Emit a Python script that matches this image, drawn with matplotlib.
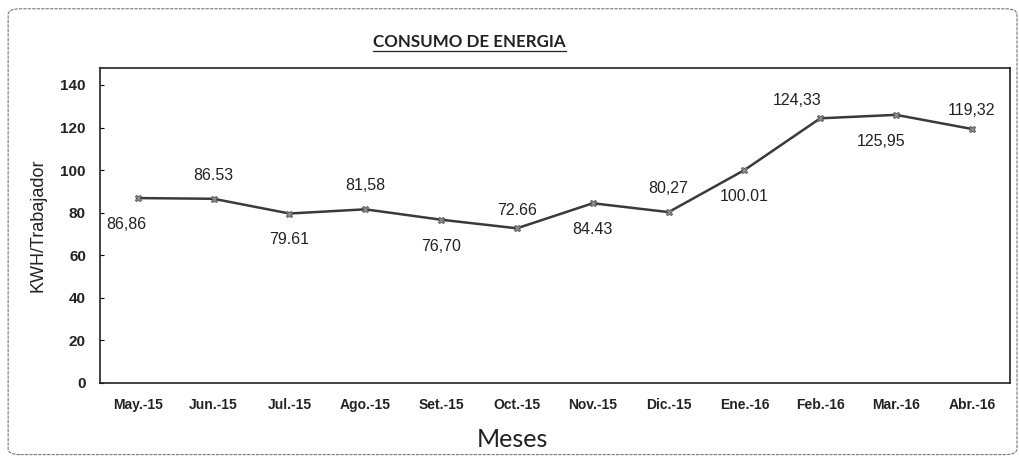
import matplotlib
matplotlib.use("Agg")
import matplotlib.pyplot as plt
from matplotlib.patches import FancyBboxPatch
from matplotlib.lines import Line2D

# Data
months = ["May.-15", "Jun.-15", "Jul.-15", "Ago.-15", "Set.-15", "Oct.-15",
          "Nov.-15", "Dic.-15", "Ene.-16", "Feb.-16", "Mar.-16", "Abr.-16"]
kwh = [86.86, 86.53, 79.61, 81.58, 76.70, 72.66,
       84.43, 80.27, 100.01, 124.33, 125.95, 119.32]
value_labels = ["86,86", "86.53", "79.61", "81,58", "76,70", "72.66",
                "84.43", "80,27", "100.01", "124,33", "125,95", "119,32"]
y_ticks = [0, 20, 40, 60, 80, 100, 120, 140]

fig = plt.figure(figsize=(10.19, 4.62), dpi=100)
ax = fig.add_axes([0.098, 0.171, 0.893, 0.682])

x = list(range(len(months)))
ax.plot(x, kwh, color="#3a3a3a", linewidth=1.8, marker="X", markersize=5,
        markerfacecolor="#8a8a8a", markeredgecolor="#555555", markeredgewidth=0.6)

# labels alternate below / above the points
for i, (v, lab) in enumerate(zip(kwh, value_labels)):
    dy = -19 if i % 2 == 0 else 17
    dx = 0
    if i == 0:
        dx = -8
    elif i in (5, 11, 9):
        dy = 13
    if i == 9:
        dx = -17
    if i == 10:
        dx = -11
    ax.annotate(lab, (i, v), xytext=(dx, dy), textcoords="offset points",
                ha="center", va="center", fontsize=11.5,
                family="Liberation Sans", color="#222222")

ax.set_xlim(-0.5, len(months) - 0.5)
ax.set_ylim(0, 148)
ax.set_yticks(y_ticks)
ax.set_xticks(x)
ax.set_xticklabels(months, fontsize=10, family="Liberation Sans",
                   fontweight="bold", color="#222222")
for t in ax.get_yticklabels():
    t.set_fontsize(11)
    t.set_family("Liberation Sans")
    t.set_fontweight("bold")
    t.set_color("#222222")
ax.tick_params(axis="x", length=0, pad=11)
ax.tick_params(axis="y", length=3, direction="in", pad=10)
for s in ax.spines.values():
    s.set_color("#222222")
    s.set_linewidth(1.2)

ax.set_ylabel("KWH/Trabajador", fontsize=13, family="Liberation Sans",
              color="#222222", labelpad=10)
fig.text(0.503, 0.048, "Meses", fontsize=18, family="Lato",
         ha="center", va="center", color="#222222")

title = fig.text(0.461, 0.910, "CONSUMO DE ENERGIA", fontsize=12.2,
                 family="Lato", fontweight="bold", ha="center", va="center",
                 color="#222222")

# underline under the title
fig.canvas.draw()
bb = title.get_window_extent().transformed(fig.transFigure.inverted())
fig.add_artist(Line2D([bb.x0, bb.x1], [bb.y0 - 0.004, bb.y0 - 0.004],
                      transform=fig.transFigure, color="#222222", linewidth=0.9))

# scanned outer frame
frame = FancyBboxPatch((0.008, 0.016), 0.99, 0.965,
                       boxstyle="round,pad=0,rounding_size=0.012",
                       transform=fig.transFigure, fill=False,
                       edgecolor="#777777", linewidth=0.8, linestyle=(0, (3, 1)))
fig.add_artist(frame)

fig.savefig("out.png", dpi=100)
